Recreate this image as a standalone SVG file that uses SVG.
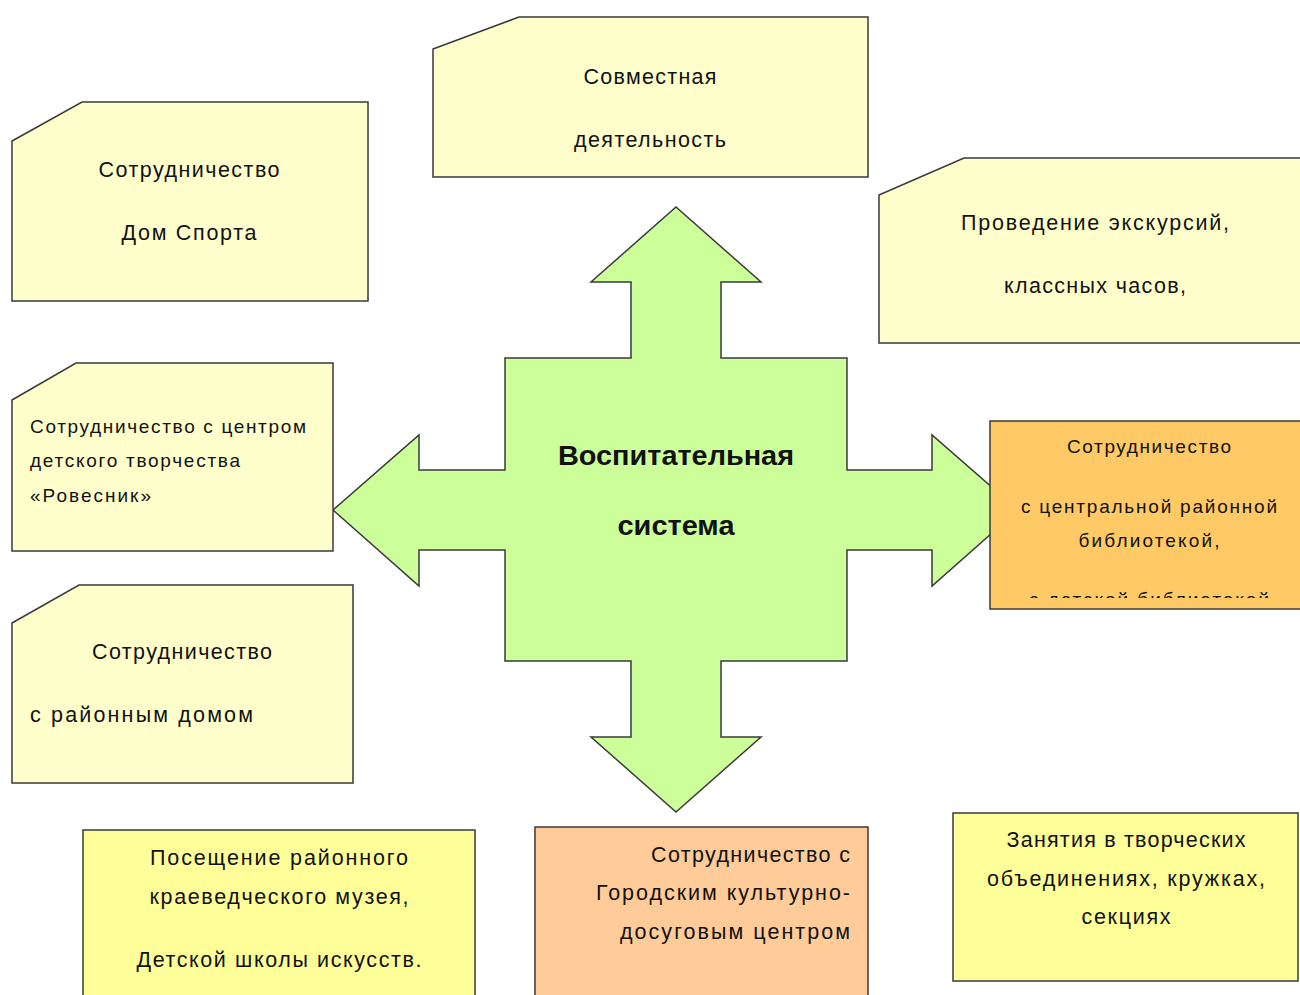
<svg xmlns="http://www.w3.org/2000/svg" width="1300" height="995" viewBox="0 0 1300 995">
<defs>
<style>
.box{stroke:#3a3a3a;stroke-width:1.5}
.pale{fill:#FFFFCC}
.yel{fill:#FFFF99}
.org{fill:#FFC966}
.peach{fill:#FFCC99}
.arrow{fill:#CCFF99;stroke:#3a3a3a;stroke-width:1.5;stroke-linejoin:miter}
text{font-family:"Liberation Sans","Noto Sans",sans-serif;font-size:21.5px;fill:#111}
.s{font-size:19px}
.c{text-anchor:middle}
.r{text-anchor:end}
.t{font-size:28px;font-weight:bold;text-anchor:middle}
</style>
<clipPath id="clipOrg"><rect x="990" y="421" width="310" height="177"/></clipPath>
</defs>
<rect width="1300" height="995" fill="#fff"/>

<g id="connectors">
<path class="arrow" d="M676,207 L761,282 L721,282 L721,358 L847,358 L847,470 L932,470 L932,435 L1018,510 L932,586 L932,550 L847,550 L847,661 L721,661 L721,737 L761,737 L676,812 L591,737 L631,737 L631,661 L505,661 L505,550 L419,550 L419,586 L333,510 L419,435 L419,470 L505,470 L505,358 L631,358 L631,282 L591,282 Z"/>
</g>

<g id="center">
<text class="t" x="676" y="465" textLength="236" lengthAdjust="spacingAndGlyphs">Воспитательная</text>
<text class="t" x="676" y="535" textLength="117" lengthAdjust="spacingAndGlyphs">система</text>
</g>

<g id="n-joint">
<path class="box pale" d="M433,49 L519,17 L868,17 L868,177 L433,177 Z"/>
<text class="c" x="650" y="84" textLength="133">Совместная</text>
<text class="c" x="650" y="147" textLength="152">деятельность</text>
</g>

<g id="n-sport">
<path class="box pale" d="M12,141 L82,102 L368,102 L368,301 L12,301 Z"/>
<text class="c" x="189" y="177" textLength="181">Сотрудничество</text>
<text class="c" x="189" y="240" textLength="135">Дом Спорта</text>
</g>

<g id="n-excursions">
<path class="box pale" d="M879,195 L964,158 L1302,158 L1302,343 L879,343 Z"/>
<text class="c" x="1095" y="230" textLength="268">Проведение экскурсий,</text>
<text class="c" x="1095" y="293" textLength="182">классных часов,</text>
</g>

<g id="n-rovesnik">
<path class="box pale" d="M12,400 L76,363 L333,363 L333,551 L12,551 Z"/>
<text class="s" x="30" y="433" textLength="276">Сотрудничество с центром</text>
<text class="s" x="30" y="467" textLength="210">детского творчества</text>
<text class="s" x="30" y="502" textLength="121">«Ровесник»</text>
</g>

<g id="n-library">
<rect class="box org" x="990" y="421" width="312" height="188"/>
<g clip-path="url(#clipOrg)">
<text class="s c" x="1149" y="453" textLength="164">Сотрудничество</text>
<text class="s c" x="1149" y="513" textLength="256">с центральной районной</text>
<text class="s c" x="1149" y="547" textLength="141">библиотекой,</text>
<text class="s c" x="1149" y="606" textLength="240">с детской библиотекой</text>
</g>
</g>

<g id="n-house">
<path class="box pale" d="M12,623 L79,585 L353,585 L353,783 L12,783 Z"/>
<text class="c" x="182" y="659" textLength="180">Сотрудничество</text>
<text x="30" y="722" textLength="223">с районным домом</text>
</g>

<g id="n-museum">
<rect class="box yel" x="83" y="830" width="392" height="170"/>
<text class="c" x="279" y="865" textLength="258">Посещение районного</text>
<text class="c" x="279" y="904" textLength="259">краеведческого музея,</text>
<text class="c" x="279" y="967" textLength="285">Детской школы искусств.</text>
</g>

<g id="n-culture">
<rect class="box peach" x="535" y="827" width="333" height="173"/>
<text class="r" x="850" y="862" textLength="199">Сотрудничество с</text>
<text class="r" x="850" y="900" textLength="254">Городским культурно-</text>
<text class="r" x="850" y="939" textLength="230">досуговым центром</text>
</g>

<g id="n-clubs">
<rect class="box yel" x="953" y="813" width="345" height="168"/>
<text class="c" x="1126" y="847" textLength="239">Занятия в творческих</text>
<text class="c" x="1126" y="886" textLength="278">объединениях, кружках,</text>
<text class="c" x="1126" y="924" textLength="89">секциях</text>
</g>
</svg>
